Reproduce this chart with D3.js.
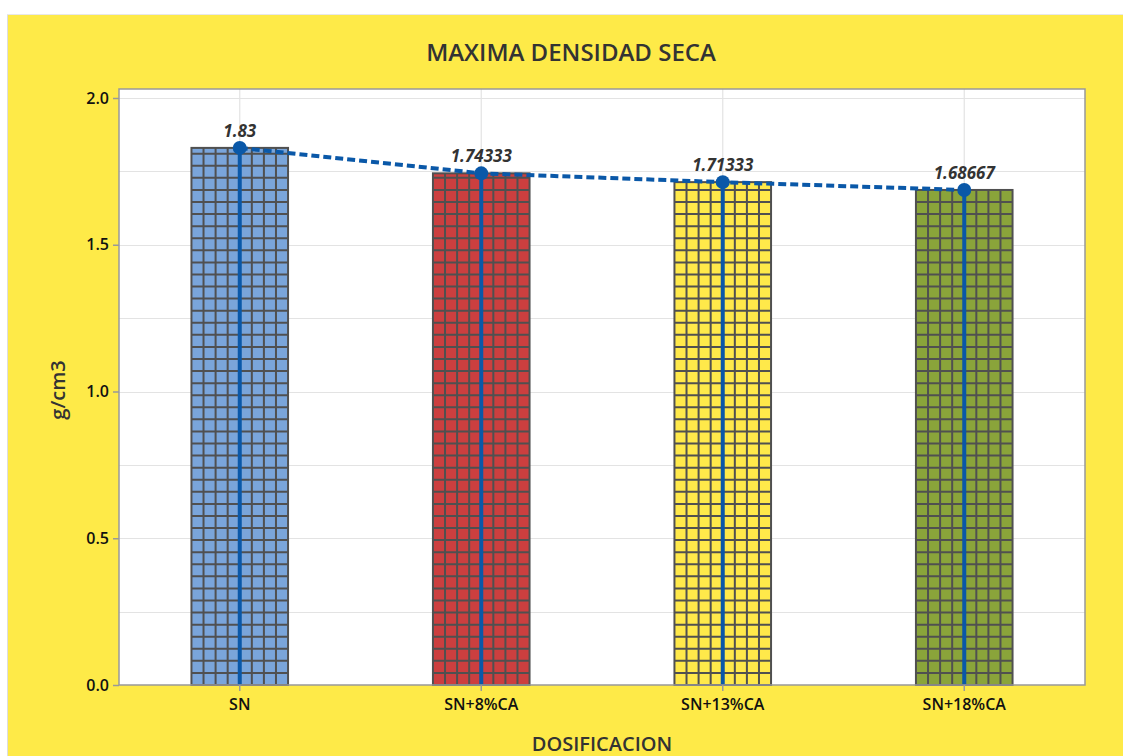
<!DOCTYPE html>
<html>
<head>
  <meta charset="utf-8">
  <title>Maxima densidad seca</title>
  <script src="https://d3js.org/d3.v7.min.js"></script>
<style>
  body { margin: 0; background: #fff; }
  svg { display: block; font-family: "Open Sans", "Noto Sans", sans-serif; }
  .tick text { font-size: 16px; fill: #111; font-weight: 600; font-family: "Open Sans", "Noto Sans", sans-serif; }
</style>
</head>
<body>
  <svg width="1123" height="756"></svg>
  <script>
    var categories = ["SN", "SN+8%CA", "SN+13%CA", "SN+18%CA"];
    var values = [1.83, 1.74333, 1.71333, 1.68667];
    var labels = ["1.83", "1.74333", "1.71333", "1.68667"];
    var barColors = ["#7aa5da", "#cc3f3f", "#ffe94a", "#8aa43a"];
    var yTicks = [0.0, 0.5, 1.0, 1.5, 2.0];
    var yGrid = [0.25, 0.5, 0.75, 1.0, 1.25, 1.5, 1.75, 2.0];

    var svg = d3.select("svg");
    var W = 1123, H = 756;
    var pLeft = 119, pRight = 1085, pTop = 89, pBottom = 685;

    // background panel
    svg.append("rect").attr("x", 7).attr("y", 14).attr("width", W - 7).attr("height", H - 14)
      .attr("fill", "#feea48");
    svg.append("line").attr("x1", 7.5).attr("x2", 7.5).attr("y1", 14).attr("y2", H)
      .attr("stroke", "#ddd");
    svg.append("line").attr("x1", 7).attr("x2", W).attr("y1", 14.5).attr("y2", 14.5)
      .attr("stroke", "#e8e8e8");

    var x = d3.scaleBand().domain(categories).range([pLeft, pRight]).padding(0);
    var y = d3.scaleLinear().domain([0, 2.0]).range([pBottom, 98]);

    svg.append("rect").attr("x", pLeft).attr("y", pTop)
      .attr("width", pRight - pLeft).attr("height", pBottom - pTop).attr("fill", "#fff");

    // grid
    svg.append("g").selectAll("line").data(yGrid).enter().append("line")
      .attr("x1", pLeft).attr("x2", pRight)
      .attr("y1", d => Math.round(y(d)) + 0.5).attr("y2", d => Math.round(y(d)) + 0.5)
      .attr("stroke", "#e3e3e3").attr("stroke-width", 1.2);
    svg.append("g").selectAll("line").data(categories).enter().append("line")
      .attr("x1", d => x(d) + x.bandwidth() / 2).attr("x2", d => x(d) + x.bandwidth() / 2)
      .attr("y1", pTop).attr("y2", pBottom)
      .attr("stroke", "#e3e3e3").attr("stroke-width", 1.2);

    // bars with a square mesh fill
    var barW = x.bandwidth() * 0.4;
    var cols = 8;
    var cell = barW / cols;
    var bars = svg.append("g").selectAll("g").data(values).enter().append("g");
    bars.each(function(d, i) {
      var g = d3.select(this);
      var bx = x(categories[i]) + (x.bandwidth() - barW) / 2;
      var by = y(d), bh = y(0) - y(d);
      g.append("rect").attr("x", bx).attr("y", by).attr("width", barW).attr("height", bh)
        .attr("fill", barColors[i]);
      var vx = d3.range(1, cols).map(k => bx + k * cell);
      g.selectAll(".v").data(vx).enter().append("line")
        .attr("x1", v => v).attr("x2", v => v).attr("y1", by).attr("y2", y(0))
        .attr("stroke", "#505050").attr("stroke-width", 2);
      var hy = d3.range(1, Math.floor(bh / cell) + 1).map(k => y(0) - k * cell).filter(v => v > by + 2);
      g.selectAll(".h").data(hy).enter().append("line")
        .attr("x1", bx).attr("x2", bx + barW).attr("y1", v => v).attr("y2", v => v)
        .attr("stroke", "#505050").attr("stroke-width", 2);
      g.append("rect").attr("x", bx).attr("y", by).attr("width", barW).attr("height", bh)
        .attr("fill", "none").attr("stroke", "#505050").attr("stroke-width", 2);
    });

    // line series
    var cx = (d, i) => x(categories[i]) + x.bandwidth() / 2;
    svg.append("g").selectAll("line").data(values).enter().append("line")
      .attr("x1", cx).attr("x2", cx)
      .attr("y1", d => y(d)).attr("y2", y(0))
      .attr("stroke", "#0a58a8").attr("stroke-width", 4);

    var line = d3.line().x((d, i) => cx(d, i)).y(d => y(d));
    svg.append("path").datum(values).attr("d", line)
      .attr("fill", "none").attr("stroke", "#0a58a8").attr("stroke-width", 4)
      .attr("stroke-dasharray", "8,4");

    svg.append("g").selectAll("circle").data(values).enter().append("circle")
      .attr("cx", cx).attr("cy", d => y(d)).attr("r", 7)
      .attr("fill", "#0a58a8");

    svg.append("g").selectAll("text").data(values).enter().append("text")
      .attr("x", cx).attr("y", d => y(d) - 11)
      .attr("text-anchor", "middle")
      .attr("font-size", 17).attr("font-weight", "bold").attr("font-style", "italic")
      .attr("fill", "#333")
      .text((d, i) => labels[i]);

    // frame
    svg.append("rect").attr("x", pLeft).attr("y", pTop)
      .attr("width", pRight - pLeft).attr("height", pBottom - pTop)
      .attr("fill", "none").attr("stroke", "#999").attr("stroke-width", 1.5);

    // axes
    var yAxis = svg.append("g").attr("transform", "translate(" + pLeft + ",0)")
      .call(d3.axisLeft(y).tickValues(yTicks).tickFormat(d3.format(".1f")).tickSize(6).tickPadding(4));
    var xAxis = svg.append("g").attr("transform", "translate(0," + pBottom + ")")
      .call(d3.axisBottom(x).tickSize(6).tickPadding(8));
    [yAxis, xAxis].forEach(function(a) {
      a.select(".domain").remove();
      a.selectAll(".tick line").attr("stroke", "#999").attr("stroke-width", 1.5);
    });

    // titles
    svg.append("text").attr("x", 571).attr("y", 61).attr("text-anchor", "middle")
      .attr("font-size", 24).attr("font-weight", 600).attr("fill", "#333").text("MAXIMA DENSIDAD SECA");
    svg.append("text").attr("x", 602).attr("y", 751).attr("text-anchor", "middle")
      .attr("font-size", 20).attr("font-weight", 600).attr("fill", "#333").text("DOSIFICACION");
    svg.append("text").attr("transform", "translate(65,390) rotate(-90)")
      .attr("text-anchor", "middle")
      .attr("font-size", 20).attr("font-weight", 600).attr("fill", "#333").text("g/cm3");
  </script>
</body>
</html>
